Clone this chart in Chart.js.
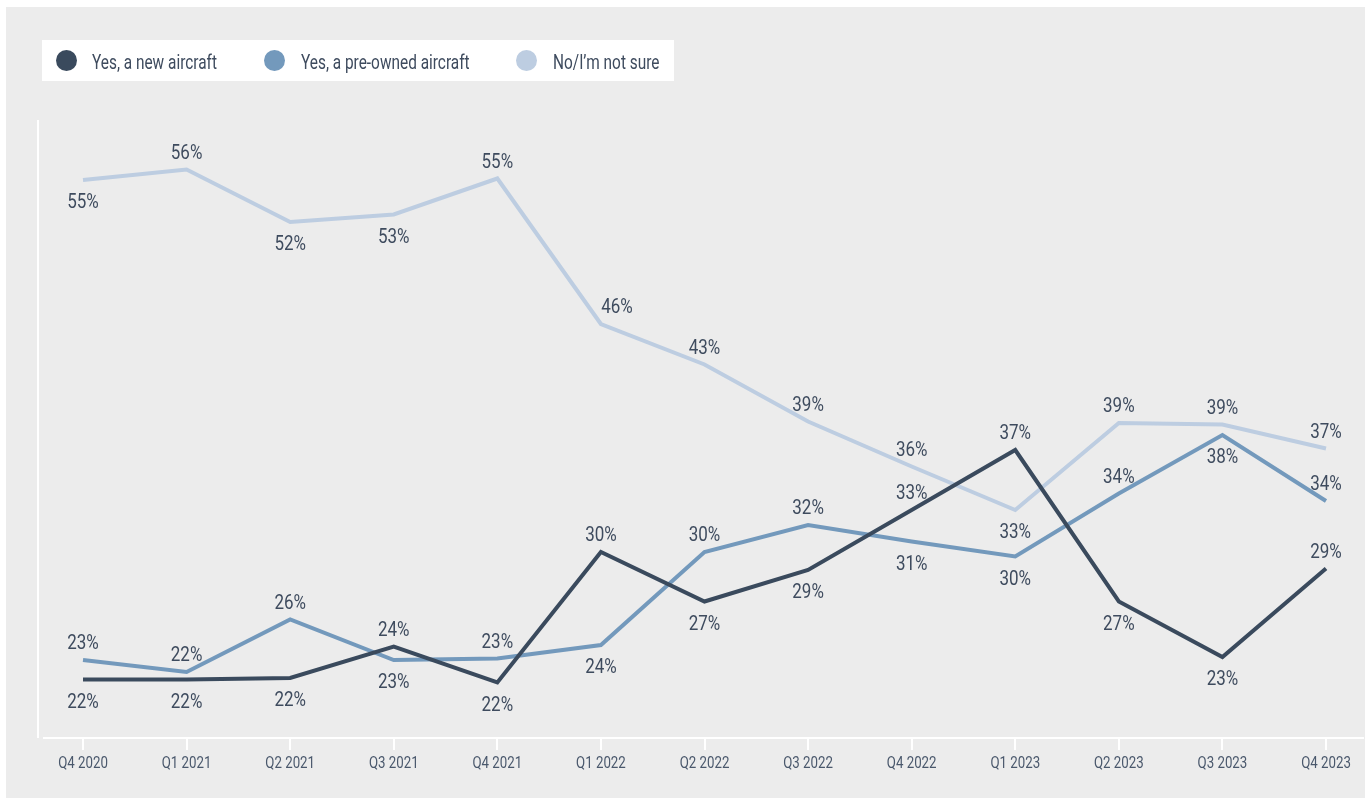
<!DOCTYPE html>
<html>
<head>
<meta charset="utf-8">
<script src="https://cdn.jsdelivr.net/npm/chart.js@4/dist/chart.umd.min.js"></script>
<style>
  html, body { margin: 0; padding: 0; background: #fff; }
  body { width: 1372px; height: 799px; position: relative; overflow: hidden;
         font-family: 'Roboto', sans-serif; }
  #panel { position: absolute; left: 6px; top: 7px; width: 1359px; height: 791px; background: #ececec; }
  #chart-wrap { position: absolute; left: 0; top: 0; width: 1372px; height: 799px; }
  #legend { position: absolute; left: 42px; top: 40px; width: 632px; height: 41px; background: #fff; }
  #legend .dot { position: absolute; top: 10px; width: 21px; height: 21px; border-radius: 50%; }
  #legend .txt { position: absolute; top: 2px; line-height: 41px; font-size: 19.5px; color: #3e4b5e;
                 white-space: nowrap; transform: scaleX(0.79); transform-origin: 0 50%; }
</style>
</head>
<body>
<div id="panel"></div>
<div id="chart-wrap"><canvas id="trend-chart" width="1372" height="799"></canvas></div>
<div id="legend"></div>

<script>
// ── Data ────────────────────────────────────────────────────────────────────
const QUARTERS = ['Q4 2020', 'Q1 2021', 'Q2 2021', 'Q3 2021', 'Q4 2021', 'Q1 2022', 'Q2 2022',
                  'Q3 2022', 'Q4 2022', 'Q1 2023', 'Q2 2023', 'Q3 2023', 'Q4 2023'];

const NEW_AIRCRAFT = [21.9, 21.9, 22.0, 24.1, 21.7, 30.4, 27.1, 29.2, 33.2, 37.2, 27.1, 23.4, 29.3];
const PREOWNED     = [23.2, 22.4, 25.9, 23.2, 23.3, 24.2, 30.4, 32.2, 31.1, 30.1, 34.3, 38.2, 33.8];
const NOT_SURE     = [55.2, 55.9, 52.4, 52.9, 55.3, 45.6, 42.9, 39.1, 36.1, 33.2, 39.0, 38.9, 37.3];

// label above (a) or below (b) each point
const NEW_POS      = ['b','b','b','a','b','a','b','b','a','a','b','b','a'];
const PREOWNED_POS = ['a','a','a','b','a','b','a','a','b','b','a','b','a'];
const NOT_SURE_POS = ['b','a','b','b','a','a','a','a','a','b','a','a','a'];

const SERIES = [
  { label: 'Yes, a new aircraft',       data: NEW_AIRCRAFT, color: '#3a4a5d', pos: NEW_POS },
  { label: 'Yes, a pre-owned aircraft', data: PREOWNED,     color: '#7399bc', pos: PREOWNED_POS },
  { label: 'No/I\u2019m not sure',      data: NOT_SURE,     color: '#bdcde1', pos: NOT_SURE_POS },
];

const FONT    = "'Roboto', sans-serif";
const INK     = '#3e4b5e';
const NARROW  = 0.83;   // Roboto squeezed to a condensed width

// ── Plugins ─────────────────────────────────────────────────────────────────
// white axis lines that run a little past the plot area
const axisLines = {
  id: 'axisLines',
  beforeDatasetsDraw(chart) {
    const { ctx, chartArea: a } = chart;
    ctx.save();
    ctx.strokeStyle = '#ffffff';
    ctx.lineWidth = 2;
    ctx.beginPath();
    ctx.moveTo(38, a.top);    ctx.lineTo(38, a.bottom);
    ctx.moveTo(43, a.bottom); ctx.lineTo(a.right + 38, a.bottom);
    ctx.stroke();
    ctx.restore();
  }
};

function narrowText(ctx, text, x, y, sx) {
  ctx.save();
  ctx.translate(x, y);
  ctx.scale(sx, 1);
  ctx.fillText(text, 0, 0);
  ctx.restore();
}

// quarter names under the x ticks
const quarterLabels = {
  id: 'quarterLabels',
  afterDraw(chart) {
    const { ctx, scales: { x } } = chart;
    ctx.save();
    ctx.font = `16px ${FONT}`;
    ctx.fillStyle = '#4a586c';
    ctx.textAlign = 'center';
    ctx.textBaseline = 'middle';
    x.ticks.forEach((t, i) => narrowText(ctx, x.getLabelForValue(t.value), x.getPixelForTick(i), x.bottom - 35, NARROW));
    ctx.restore();
  }
};

// percentage labels next to every point
const pointLabels = {
  id: 'pointLabels',
  afterDatasetsDraw(chart) {
    const { ctx } = chart;
    ctx.save();
    ctx.font = `20px ${FONT}`;
    ctx.fillStyle = INK;
    ctx.textAlign = 'center';
    ctx.textBaseline = 'middle';
    chart.data.datasets.forEach((ds, i) => {
      chart.getDatasetMeta(i).data.forEach((pt, j) => {
        const above = ds.pos[j] === 'a';
        let x = pt.x;
        if (i === 2 && j === 5) x += 16;   // keep 46% clear of the steep segment
        narrowText(ctx, Math.round(ds.data[j]) + '%', x, pt.y + (above ? -16 : 23), 0.85);
      });
    });
    ctx.restore();
  }
};

// ── Chart ───────────────────────────────────────────────────────────────────
const chart = new Chart(document.getElementById('trend-chart'), {
  type: 'line',
  data: {
    labels: QUARTERS,
    datasets: SERIES.map(s => ({
      label: s.label, data: s.data, pos: s.pos,
      borderColor: s.color, backgroundColor: s.color,
      borderWidth: 4, pointRadius: 0, tension: 0, fill: false,
    }))
  },
  options: {
    responsive: false, animation: false,
    layout: { padding: { left: 83, right: 46, top: 120, bottom: 0 } },
    plugins: { legend: { display: false }, tooltip: { enabled: false } },
    scales: {
      y: { display: false, min: 18, max: 59.2 },
      x: {
        offset: false,
        border: { display: false },
        grid: { drawOnChartArea: false, drawTicks: true, tickLength: 12, color: '#ffffff', lineWidth: 2 },
        ticks: { color: 'rgba(0,0,0,0)', font: { family: FONT, size: 16 }, padding: 4, maxRotation: 0 },
        afterFit(scale) { scale.height = 61; }
      }
    }
  },
  plugins: [axisLines, pointLabels, quarterLabels]
});

// ── Legend ──────────────────────────────────────────────────────────────────
const LEGEND_DOT_X  = [14, 222, 474];
const LEGEND_TEXT_X = [50, 259, 511];
const legend = document.getElementById('legend');
SERIES.forEach((s, i) => {
  legend.innerHTML += `<div class="dot" style="left:${LEGEND_DOT_X[i]}px;background:${s.color}"></div>` +
                      `<span class="txt" style="left:${LEGEND_TEXT_X[i]}px">${s.label}</span>`;
});
</script>
</body>
</html>
